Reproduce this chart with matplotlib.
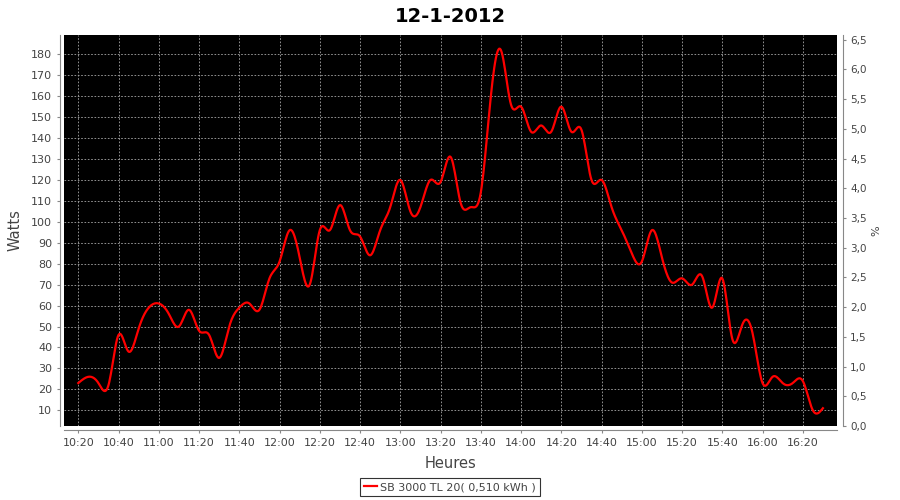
import numpy as np
import pandas as pd
import matplotlib
matplotlib.use("Agg")
import matplotlib.pyplot as plt
import matplotlib.dates as mdates
from matplotlib.ticker import MultipleLocator, FuncFormatter

# readings every 5 minutes, 10:20 -> 16:30
start = "2012-01-12 10:20"
watts = [23, 26, 23, 22, 46, 38, 49, 59, 61, 56, 50, 58, 48, 46, 35, 50,
         59, 61, 58, 73, 81, 96, 83, 70, 96, 96, 108, 96, 93, 84, 96, 107,
         120, 105, 107, 120, 119, 131, 109, 107, 114, 160, 182, 156, 155, 143,
         146, 143, 155, 143, 144, 120, 120, 107, 96, 85, 81, 96, 83, 71,
         73, 70, 74, 59, 73, 44, 51, 47, 23, 26, 23, 23, 24, 10, 11]
series_label = "SB 3000 TL 20( 0,510 kWh )"
title = "12-1-2012"

times = pd.date_range(start, periods=len(watts), freq="5min")


def spline(x, y, n=12):
    # natural cubic spline, like the smooth renderer of the original
    x = np.asarray(x, float)
    y = np.asarray(y, float)
    h = np.diff(x)
    m = len(x)
    A = np.zeros((m, m))
    b = np.zeros(m)
    A[0, 0] = A[-1, -1] = 1
    for i in range(1, m - 1):
        A[i, i - 1] = h[i - 1]
        A[i, i] = 2 * (h[i - 1] + h[i])
        A[i, i + 1] = h[i]
        b[i] = 6 * ((y[i + 1] - y[i]) / h[i] - (y[i] - y[i - 1]) / h[i - 1])
    M = np.linalg.solve(A, b)
    xs, ys = [], []
    for i in range(m - 1):
        t = np.linspace(x[i], x[i + 1], n, endpoint=False)
        a = x[i + 1] - t
        c = t - x[i]
        s = (M[i] * a ** 3 + M[i + 1] * c ** 3) / (6 * h[i]) \
            + (y[i] / h[i] - M[i] * h[i] / 6) * a \
            + (y[i + 1] / h[i] - M[i + 1] * h[i] / 6) * c
        xs.append(t)
        ys.append(s)
    xs.append([x[-1]])
    ys.append([y[-1]])
    return np.concatenate(xs), np.concatenate(ys)


xnum = mdates.date2num(times)
sx, sy = spline(xnum, watts)

fig = plt.figure(figsize=(9, 5), dpi=100)
ax = fig.add_axes([64 / 900, 1 - 426 / 500, 773 / 900, 391 / 500])
ax.set_facecolor("black")

ax.plot(sx, sy, color="#ff0000", lw=1.6, label=series_label, zorder=3)

ax.set_xlim(mdates.date2num(pd.Timestamp("2012-01-12 10:12:54")),
            mdates.date2num(pd.Timestamp("2012-01-12 16:37:00")))
ax.set_ylim(2.5, 189.2)
ax.xaxis.set_major_locator(mdates.MinuteLocator(byminute=[0, 20, 40]))
ax.xaxis.set_major_formatter(mdates.DateFormatter("%H:%M"))
ax.yaxis.set_major_locator(MultipleLocator(10))
ax.yaxis.set_major_formatter(FuncFormatter(lambda v, p: f"{v:.0f}" if v > 0 else ""))

ax.grid(True, color="#a8a8a8", ls=(0, (2, 2)), lw=0.6)

gray = "#888888"
ax.spines["top"].set_visible(False)
ax.spines["left"].set_position(("outward", 3))
ax.spines["bottom"].set_position(("outward", 3))
ax.spines["right"].set_visible(False)
for side in ["left", "bottom"]:
    ax.spines[side].set_color(gray)
ax.tick_params(colors=gray, labelcolor="#444444", labelsize=8, length=2, width=0.8)

ax2 = ax.twinx()
ax2.set_ylim(0, 6.58)
ax2.yaxis.set_major_locator(MultipleLocator(0.5))
ax2.yaxis.set_major_formatter(FuncFormatter(lambda v, p: f"{v:.1f}".replace(".", ",")))
for side in ["top", "left", "bottom"]:
    ax2.spines[side].set_visible(False)
ax2.spines["right"].set_position(("outward", 4))
ax2.spines["right"].set_color(gray)
ax2.tick_params(colors=gray, labelcolor="#444444", labelsize=7.5, length=2, width=0.8)
ax2.set_ylabel("%", fontsize=8, color="#444444", labelpad=3)

ax.set_ylabel("Watts", fontsize=10.5, color="#444444", labelpad=6)
ax.set_xlabel("Heures", fontsize=10.5, color="#444444", labelpad=6)
fig.suptitle(title, fontsize=14, fontweight="bold", y=0.985)

leg = fig.legend(loc="center", bbox_to_anchor=(450 / 900, 1 - 487 / 500),
                 fontsize=8, frameon=True, fancybox=False, handlelength=1.2,
                 handletextpad=0.3, borderpad=0.35, borderaxespad=0)
leg.get_frame().set_edgecolor("black")
leg.get_frame().set_linewidth(0.8)
for t in leg.get_texts():
    t.set_color("#444444")

fig.savefig("out.png", dpi=100)
